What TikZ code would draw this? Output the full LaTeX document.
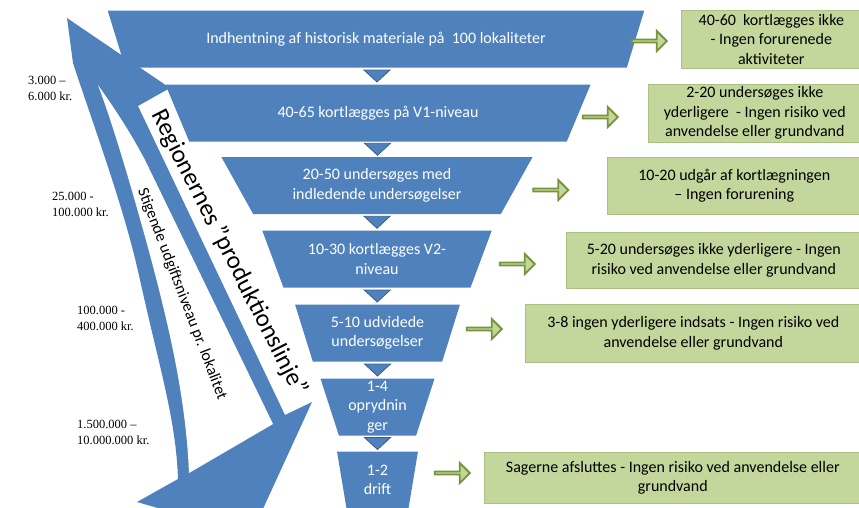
\documentclass[tikz,border=0pt]{standalone}
\usepackage{fontspec}
\setmainfont{Carlito}
\newfontfamily\costfont{Liberation Serif}
\usetikzlibrary{shapes,calc}
\definecolor{funnel_blue}{RGB}{79,129,189}
\definecolor{funnel_dark}{RGB}{56,93,138}
\definecolor{box_green}{RGB}{195,214,155}
\definecolor{box_edge}{RGB}{172,192,132}
\definecolor{arrow_green}{RGB}{119,147,60}
\tikzstyle{stage}=[trapezium,shape border rotate=180,trapezium stretches=true,
  fill=funnel_blue,text=white,align=center,inner sep=0pt,minimum height=57pt,
  font=\fontsize{16}{19.5}\selectfont]
\tikzstyle{result}=[rectangle,fill=box_green,draw=box_edge,line width=0.6pt,
  align=center,anchor=north west,inner sep=0pt,
  font=\fontsize{16}{19.5}\selectfont]
\tikzstyle{go}=[single arrow,fill=box_green,draw=arrow_green,line width=1.8pt,
  minimum height=35pt,minimum width=20pt,single arrow head extend=5pt,inner sep=0pt]
\tikzstyle{cost}=[align=left,anchor=west,inner sep=0pt,
  font=\costfont\fontsize{12.5}{16}\selectfont]
\begin{document}
\begin{tikzpicture}[x=1pt,y=-1pt]
    \useasboundingbox (0,0) rectangle (859,507);
    \clip (0,0) rectangle (859,507);
    % curved arrow on the left
    \fill[funnel_blue] (67,18) -- (73,63)
      .. controls (95,130) and (125,210) .. (140,280)
      .. controls (160,370) and (176,420) .. (178,479)
      -- (137,502) -- (251,535) -- (312,402) -- (285,415)
      -- (138,106) -- (170,88) -- cycle;
    \fill[white] (98,85)
      .. controls (115,130) and (135,200) .. (150,255)
      .. controls (170,330) and (186,400) .. (189,473)
      -- (273,424) -- (145,160)
      .. controls (128,128) and (112,105) .. cycle;
    \node[rotate=-63,font=\fontsize{25}{28}\selectfont] (line) at (229,253)
      {Regionernes ”produktionslinje”};
    \node[rotate=-69,font=\fontsize{16}{19}\selectfont] (rise) at (182,294)
      {Stigende udgiftsniveau pr. lokalitet};
    % costs
    \node[cost] (c1) at (28,88) {3.000 –\\6.000 kr.};
    \node[cost] (c2) at (52,204.5) {25.000 -\\100.000 kr.};
    \node[cost] (c3) at (77,318.5) {100.000 -\\400.000 kr.};
    \node[cost] (c4) at (77,432) {1.500.000 –\\10.000.000 kr.};
    % funnel
    \node[stage,minimum width=538pt,trapezium left angle=50,trapezium right angle=50]
      (stage1) at (376,39) {Indhentning af historisk materiale på~ 100 lokaliteter};
    \node[stage,minimum width=426pt,trapezium left angle=48,trapezium right angle=48]
      (stage2) at (378,113) {40-65 kortlægges på V1-niveau};
    \node[stage,minimum width=312pt,trapezium left angle=57,trapezium right angle=57]
      (stage3) at (377,185.5) {20-50 undersøges med\\indledende undersøgelser};
    \node[stage,minimum width=230pt,trapezium left angle=63,trapezium right angle=63]
      (stage4) at (377,259) {10-30 kortlægges V2-\\niveau};
    \node[stage,minimum width=165pt,trapezium left angle=69,trapezium right angle=69]
      (stage5) at (377.5,333) {5-10 udvidede\\undersøgelser};
    \node[stage,minimum width=115pt,trapezium left angle=75,trapezium right angle=75]
      (stage6) at (377.5,407) {1-4\\oprydnin\\ger};
    \node[stage,minimum width=81pt,trapezium left angle=82,trapezium right angle=82]
      (stage7) at (377.5,480) {1-2\\drift};
    \foreach \a/\b in {1/2,2/3,3/4,4/5,5/6,6/7}
      \filldraw[fill=funnel_blue,draw=funnel_dark,line width=0.8pt]
        ($(stage\a.center)!0.5!(stage\b.center)+(-13,-6)$) -- ++(26,0) -- ++(-13,12) -- cycle;
    % results
    \node[result,minimum width=180pt,minimum height=58pt] (res1) at (681,10)
      {40-60~ kortlægges ikke\\- Ingen forurenede\\aktiviteter};
    \node[result,minimum width=213pt,minimum height=58pt] (res2) at (648,84)
      {2-20 undersøges ikke\\yderligere~ - Ingen risiko ved\\anvendelse eller grundvand};
    \node[result,minimum width=254pt,minimum height=57pt] (res3) at (607,157)
      {10-20 udgår af kortlægningen\\– Ingen forurening};
    \node[result,minimum width=295pt,minimum height=56pt] (res4) at (566,232)
      {5-20 undersøges ikke yderligere - Ingen\\risiko ved anvendelse eller grundvand};
    \node[result,minimum width=336pt,minimum height=58pt] (res5) at (525,304)
      {3-8 ingen yderligere indsats - Ingen risiko ved\\anvendelse eller grundvand};
    \node[result,minimum width=377pt,minimum height=51pt] (res6) at (484,452)
      {Sagerne afsluttes - Ingen risiko ved anvendelse eller\\grundvand};
    \node[go] (go1) at (648.5,41) {};
    \node[go] (go2) at (599.5,117) {};
    \node[go] (go3) at (550,190) {};
    \node[go] (go4) at (516.5,264) {};
    \node[go] (go5) at (483.5,329) {};
    \node[go] (go6) at (451.5,473) {};
\end{tikzpicture}
\end{document}
